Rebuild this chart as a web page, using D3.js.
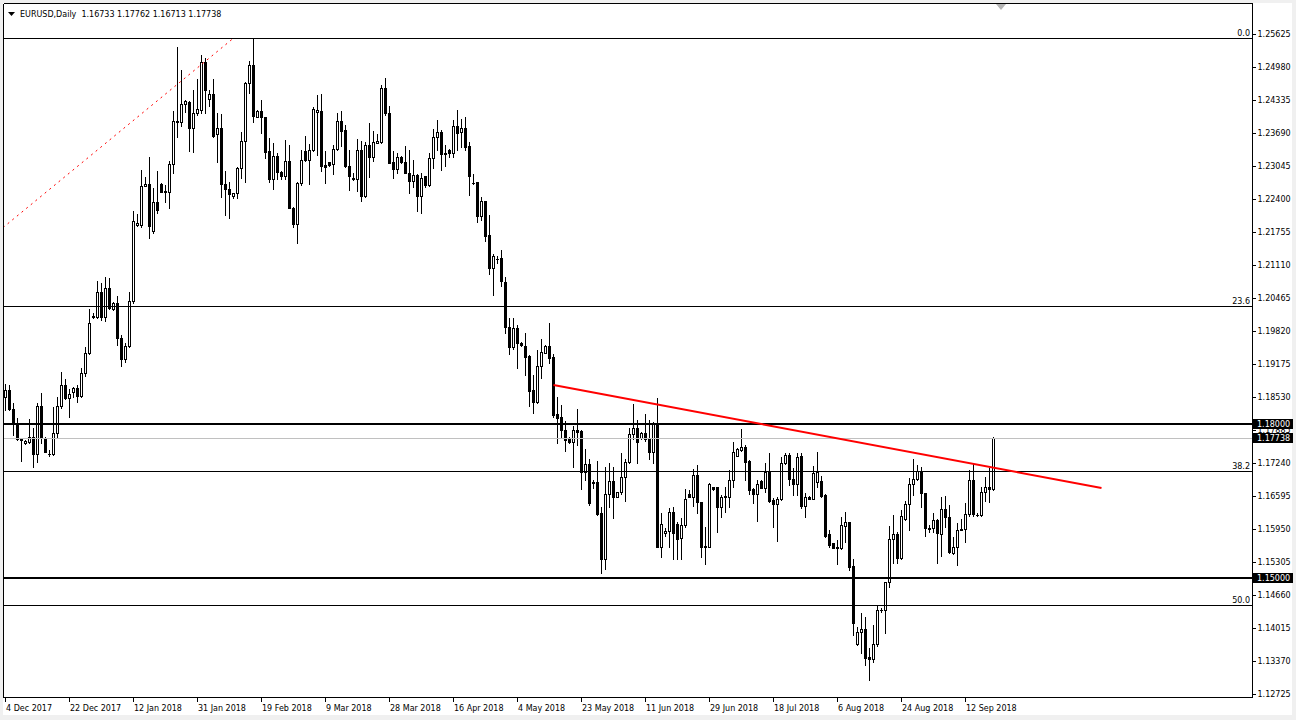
<!DOCTYPE html>
<html><head><meta charset="utf-8">
<script src="https://cdn.jsdelivr.net/npm/d3@7"></script>
<style>
html,body{margin:0;padding:0;background:#f0f0f0;}
svg{display:block;}
</style></head><body>
<svg id="c" width="1296" height="720"></svg>
<script>
// ---- data (EURUSD daily) ----
const symbolTitle = "EURUSD,Daily";
const lastOHLC = ["1.16733", "1.17762", "1.16713", "1.17738"];

const open = [
1.18542,1.18673,1.18295,1.18034,1.17708,1.17630,1.17663,1.17760,1.17415,1.18360,
1.17728,1.17421,1.17415,1.17825,1.18360,1.18764,1.18510,1.18627,1.18705,1.18562,
1.18998,1.19389,1.20093,1.20093,1.20595,1.20093,1.20660,1.20249,1.20367,1.19682,
1.19272,1.19539,1.20419,1.21904,1.21904,1.22660,1.22699,1.21787,1.22341,1.22699,
1.22550,1.22550,1.23084,1.23931,1.23905,1.24257,1.24309,1.23801,1.24081,1.24146,
1.25091,1.24355,1.24452,1.23671,1.23788,1.22693,1.22595,1.22472,1.22517,1.23006,
1.23540,1.24667,1.25026,1.24003,1.24127,1.24003,1.23345,1.22791,1.23247,1.22941,
1.22862,1.23149,1.22237,1.21911,1.22713,1.23345,1.23169,1.23364,1.24114,1.24127,
1.23071,1.23123,1.23084,1.23384,1.23931,1.23755,1.23058,1.22823,1.22791,1.23364,
1.22472,1.23462,1.23234,1.23494,1.23527,1.24570,1.24081,1.23123,1.22993,1.23221,
1.23123,1.22921,1.22765,1.22875,1.22472,1.22856,1.22680,1.23201,1.23625,1.23710,
1.23312,1.23364,1.23299,1.23833,1.23723,1.23788,1.23442,1.22726,1.22732,1.22081,
1.22367,1.21703,1.21064,1.21227,1.21250,1.20790,1.19897,1.19506,1.19878,1.19584,
1.19532,1.19337,1.18672,1.18444,1.19141,1.19402,1.19532,1.19311,1.18203,1.18138,
1.17890,1.17714,1.17649,1.17890,1.17871,1.17076,1.17226,1.16874,1.16867,1.16261,
1.15362,1.16633,1.16900,1.16587,1.16672,1.16978,1.17258,1.17806,1.17923,1.17727,
1.17838,1.17708,1.17467,1.18034,1.15610,1.15871,1.15923,1.16295,1.16047,1.15773,
1.16034,1.16640,1.16588,1.17011,1.16477,1.15610,1.15610,1.16770,1.16770,1.16392,
1.16574,1.16587,1.16913,1.17389,1.17500,1.17552,1.17284,1.16731,1.16633,1.16894,
1.16763,1.17076,1.16522,1.16437,1.16535,1.17239,1.17402,1.16926,1.16828,1.17383,
1.16405,1.16575,1.16549,1.16881,1.16901,1.16620,1.15852,1.15676,1.15610,1.15578,
1.16021,1.16086,1.15232,1.13701,1.13936,1.13994,1.13447,1.13408,1.13701,1.14366,
1.14372,1.14913,1.15760,1.15858,1.15395,1.16145,1.16444,1.16829,1.16927,1.17090,
1.16653,1.15982,1.15969,1.16132,1.15852,1.16347,1.16184,1.15480,1.15597,1.15936,
1.15949,1.16242,1.16914,1.16229,1.16223,1.16673,1.16770,1.16733];

const high = [
1.18783,1.18770,1.18412,1.18132,1.17728,1.17695,1.18099,1.17936,1.18412,1.18607,
1.17760,1.17500,1.18347,1.18542,1.19031,1.18881,1.18686,1.18738,1.18770,1.19096,
1.19520,1.20249,1.20171,1.20803,1.20758,1.20875,1.20868,1.20399,1.20510,1.19748,
1.19585,1.20595,1.22172,1.22113,1.22973,1.22843,1.23234,1.22615,1.22960,1.22712,
1.22680,1.23149,1.24127,1.25384,1.24928,1.24342,1.24322,1.24537,1.24746,1.25221,
1.25156,1.24537,1.24746,1.24081,1.24068,1.22954,1.22745,1.22530,1.23038,1.23723,
1.24700,1.25104,1.25547,1.24146,1.24342,1.24016,1.23605,1.23508,1.23299,1.22954,
1.23560,1.23462,1.22257,1.22745,1.23364,1.23638,1.23475,1.24211,1.24439,1.24452,
1.23345,1.23136,1.23462,1.24081,1.24127,1.23853,1.23364,1.22908,1.23579,1.23540,
1.23527,1.23899,1.23736,1.23670,1.24635,1.24765,1.24224,1.23345,1.23299,1.23247,
1.23442,1.23364,1.23169,1.22895,1.22908,1.22856,1.23312,1.23768,1.23951,1.23755,
1.23462,1.23384,1.23951,1.24146,1.23970,1.24016,1.23527,1.22889,1.22745,1.22452,
1.22367,1.22094,1.21331,1.21292,1.21400,1.20880,1.20073,1.20073,1.19943,1.19617,
1.19780,1.19356,1.18965,1.19454,1.19663,1.19552,1.19975,1.19369,1.18542,1.18379,
1.18066,1.17760,1.17969,1.18301,1.17890,1.17512,1.17323,1.16913,1.17284,1.16379,
1.17174,1.17239,1.17161,1.16685,1.17434,1.17323,1.17923,1.18392,1.18086,1.17858,
1.18197,1.18086,1.18053,1.18509,1.16261,1.15969,1.16373,1.16392,1.16099,1.16164,
1.16738,1.16718,1.17129,1.17206,1.16490,1.15988,1.16861,1.16783,1.16783,1.16620,
1.16783,1.17109,1.17662,1.17532,1.17910,1.17597,1.17304,1.16750,1.16913,1.16913,
1.17252,1.17434,1.16555,1.16587,1.17369,1.17434,1.17434,1.17141,1.17434,1.17435,
1.16653,1.16601,1.17187,1.17468,1.16992,1.16640,1.15936,1.15689,1.15741,1.16184,
1.16295,1.16099,1.15363,1.14047,1.14320,1.14242,1.13623,1.14079,1.14470,1.14405,
1.14926,1.16014,1.16229,1.15904,1.16327,1.16510,1.16946,1.17318,1.17207,1.17174,
1.16666,1.16034,1.16275,1.16145,1.16588,1.16601,1.16425,1.15806,1.16079,1.16145,
1.16470,1.17109,1.17220,1.16262,1.16783,1.16979,1.17142,1.17762];

const low = [
1.18282,1.18282,1.17793,1.17695,1.17291,1.17617,1.17630,1.17161,1.17272,1.17630,
1.17467,1.17382,1.17402,1.17747,1.18314,1.18490,1.18151,1.18542,1.18445,1.18542,
1.18953,1.19370,1.20073,1.20073,1.20041,1.20021,1.20249,1.20236,1.19552,1.19142,
1.19213,1.19520,1.20380,1.21878,1.21865,1.22660,1.21637,1.21748,1.22126,1.22536,
1.22341,1.22224,1.22921,1.23625,1.23840,1.24114,1.23351,1.23332,1.24048,1.24081,
1.24081,1.24231,1.23625,1.23136,1.22452,1.22094,1.22042,1.22419,1.22419,1.22823,
1.22745,1.24472,1.23918,1.24003,1.23690,1.23201,1.22745,1.22595,1.22791,1.22791,
1.22791,1.22224,1.21866,1.21540,1.22680,1.23149,1.22693,1.23351,1.23267,1.22960,
1.22726,1.23058,1.22895,1.23364,1.23442,1.23038,1.22582,1.22778,1.22569,1.22374,
1.22452,1.22843,1.23156,1.23494,1.23508,1.24048,1.23104,1.22823,1.22908,1.23104,
1.22908,1.22530,1.22647,1.22172,1.22139,1.22647,1.22660,1.23006,1.23364,1.22973,
1.23051,1.23234,1.23234,1.23364,1.23429,1.23364,1.22485,1.22700,1.21963,1.21996,
1.21592,1.20940,1.20530,1.21162,1.20700,1.19793,1.19376,1.19467,1.19096,1.19539,
1.18965,1.18366,1.18216,1.18425,1.18900,1.19389,1.19207,1.18151,1.17630,1.17760,
1.17486,1.17630,1.17161,1.17597,1.16737,1.16913,1.16424,1.16750,1.16229,1.15088,
1.15167,1.16392,1.16164,1.16574,1.16639,1.16509,1.17239,1.17708,1.17252,1.17708,
1.17682,1.17317,1.17239,1.15597,1.15414,1.15819,1.15610,1.15363,1.15363,1.15363,
1.16001,1.16575,1.16400,1.16275,1.15401,1.15271,1.15597,1.16718,1.15903,1.16196,
1.16294,1.16392,1.16783,1.17382,1.17487,1.16913,1.16639,1.16457,1.16118,1.16750,
1.16685,1.16490,1.15988,1.15727,1.16522,1.17226,1.16815,1.16620,1.16620,1.16360,
1.16197,1.16536,1.16536,1.16783,1.16575,1.15793,1.15610,1.15578,1.15272,1.15558,
1.15708,1.15154,1.13884,1.13688,1.13525,1.13297,1.13004,1.13362,1.13669,1.14340,
1.13929,1.14828,1.15285,1.15285,1.15363,1.16132,1.15936,1.16620,1.16914,1.16392,
1.15819,1.15904,1.15904,1.15285,1.15428,1.16001,1.15493,1.15467,1.15252,1.15936,
1.15708,1.16210,1.16210,1.16210,1.16210,1.16510,1.16490,1.16713];

const close = [
1.18673,1.18295,1.18021,1.17708,1.17689,1.17676,1.17760,1.17415,1.18360,1.17728,
1.17467,1.17430,1.17825,1.18360,1.18764,1.18510,1.18588,1.18705,1.18562,1.18998,
1.19389,1.19976,1.20113,1.20595,1.20093,1.20660,1.20269,1.20367,1.19682,1.19272,
1.19539,1.20419,1.21983,1.21937,1.22660,1.22699,1.21878,1.22341,1.22191,1.22550,
1.22569,1.23084,1.23931,1.23905,1.24263,1.24322,1.23801,1.24081,1.24166,1.25091,
1.24537,1.24452,1.23644,1.23788,1.22693,1.22595,1.22498,1.22517,1.23006,1.23540,
1.24680,1.25026,1.24029,1.24127,1.24003,1.23332,1.22791,1.23247,1.22941,1.22862,
1.23149,1.22237,1.21911,1.22713,1.23169,1.23169,1.23364,1.24166,1.24146,1.23058,
1.23038,1.23071,1.23384,1.23931,1.23742,1.23058,1.22862,1.22791,1.23364,1.22472,
1.23462,1.23234,1.23527,1.23540,1.24583,1.24081,1.23117,1.22993,1.23221,1.23123,
1.22921,1.22765,1.22875,1.22472,1.22810,1.22680,1.23201,1.23612,1.23710,1.23280,
1.23280,1.23299,1.23833,1.23703,1.23788,1.23429,1.22856,1.22726,1.22081,1.22367,
1.21690,1.21064,1.21292,1.21235,1.20800,1.19897,1.19506,1.19878,1.19584,1.19552,
1.19324,1.18659,1.18444,1.19141,1.19415,1.19532,1.19291,1.18184,1.18131,1.17890,
1.17695,1.17649,1.17890,1.17858,1.17076,1.17219,1.16457,1.16848,1.16242,1.15362,
1.16633,1.16900,1.16574,1.16672,1.16978,1.17258,1.17806,1.17923,1.17662,1.17838,
1.17708,1.17467,1.18034,1.15610,1.16053,1.15923,1.16295,1.15871,1.15754,1.16034,
1.16536,1.16588,1.17011,1.16477,1.15610,1.15630,1.16835,1.16744,1.16392,1.16574,
1.16600,1.16913,1.17454,1.17513,1.17552,1.17271,1.16718,1.16633,1.16835,1.16763,
1.17076,1.16509,1.16437,1.16535,1.17239,1.17402,1.16926,1.16828,1.17369,1.16405,
1.16575,1.16549,1.17057,1.17077,1.16601,1.15819,1.15643,1.15591,1.15578,1.16034,
1.16086,1.15219,1.14112,1.13936,1.13994,1.13441,1.13408,1.13701,1.14372,1.14372,
1.14913,1.15760,1.15858,1.15395,1.16210,1.16444,1.16829,1.16927,1.17090,1.16653,
1.15982,1.15949,1.16132,1.15871,1.16347,1.16184,1.15513,1.15597,1.15936,1.15956,
1.16242,1.16914,1.16242,1.16223,1.16673,1.16770,1.16731,1.17738];

const dateLabels = ["4 Dec 2017","22 Dec 2017","12 Jan 2018","31 Jan 2018","19 Feb 2018","9 Mar 2018",
  "28 Mar 2018","16 Apr 2018","4 May 2018","23 May 2018","11 Jun 2018","29 Jun 2018",
  "18 Jul 2018","6 Aug 2018","24 Aug 2018","12 Sep 2018"];
const dateLabelBar = [0,16,32,48,64,80,96,112,128,144,160,176,192,208,224,240];

const priceTicks = [1.25625,1.24980,1.24335,1.23690,1.23045,1.22400,1.21755,1.21110,1.20465,
  1.19820,1.19175,1.18530,1.17885,1.17240,1.16595,1.15950,1.15305,1.14660,1.14015,1.13370,1.12725];

const fibHigh = 1.2555, fibLow = 1.0338;
const fibLevels = [0.0, 23.6, 38.2, 50.0];
const fibAnchors = [{bar:-288, price:1.0338}, {bar:57, price:1.2555}];
const levelLines = [1.18000, 1.15000];
const bidPrice = 1.17738;
const trendLine = [{bar:137, price:1.18770}, {bar:274, price:1.16757}];

// ---- layout ----
const W = 1296, H = 720;
const PL = 4, PT = 4, PR = 1252, PB = 697;
const FONT = "'DejaVu Sans', Tahoma, sans-serif";

const svg = d3.select('#c');
svg.append('rect').attr('width', W).attr('height', H).attr('fill', '#f0f0f0');
svg.append('rect').attr('x', 3).attr('y', 3).attr('width', 1289).attr('height', 712).attr('fill', '#ffffff');

const n = open.length;
const x = d3.scaleLinear().domain([0, n - 1]).range([5.5, 5.5 + 4 * (n - 1)]);
const y = d3.scaleLinear().domain([1.12725, 1.25625]).range([694.3, 34.3]);
const ry = p => Math.round(y(p));

svg.append('defs').append('clipPath').attr('id', 'plot')
  .append('rect').attr('x', PL).attr('y', PT).attr('width', PR - PL).attr('height', PB - PT);

const plot = svg.append('g').attr('clip-path', 'url(#plot)');

// candles
const idx = d3.range(n);
const cg = plot.append('g').attr('shape-rendering', 'crispEdges');
cg.selectAll('line.wick').data(idx).join('line').attr('class', 'wick')
  .attr('x1', i => x(i)).attr('x2', i => x(i))
  .attr('y1', i => ry(high[i])).attr('y2', i => ry(low[i]) + 1)
  .attr('stroke', '#000').attr('stroke-width', 1);
cg.selectAll('path.body').data(idx).join('path').attr('class', 'body')
  .attr('d', i => {
    const t = Math.min(ry(open[i]), ry(close[i]));
    const b = Math.max(ry(open[i]), ry(close[i]));
    if (b === t) return `M${x(i) - 1.5},${t + 0.5}h3`;
    return `M${x(i) - 1},${t + 0.5}h2v${b - t}h-2Z`;
  })
  .attr('fill', i => close[i] >= open[i] ? '#ffffff' : '#000000')
  .attr('stroke', '#000').attr('stroke-width', 1);

// fib dashed trend
plot.append('line')
  .attr('x1', x(fibAnchors[0].bar)).attr('y1', y(fibAnchors[0].price))
  .attr('x2', x(fibAnchors[1].bar)).attr('y2', y(fibAnchors[1].price))
  .attr('stroke', '#ff0000').attr('stroke-width', 1).attr('stroke-dasharray', '2,4');

// fib levels
const lg = plot.append('g').attr('shape-rendering', 'crispEdges');
fibLevels.forEach(l => {
  const p = fibHigh - (fibHigh - fibLow) * l / 100;
  const yy = ry(p) + 0.5;
  lg.append('line').attr('x1', PL).attr('x2', PR).attr('y1', yy).attr('y2', yy)
    .attr('stroke', '#000').attr('stroke-width', 1);
  svg.append('text').attr('x', 1250).attr('y', yy - 2.5).attr('text-anchor', 'end')
    .attr('font-family', FONT).attr('font-size', 8).attr('fill', '#000')
    .text(l.toFixed(1));
});
// horizontal level lines
levelLines.forEach(p => {
  const yy = ry(p);
  lg.append('line').attr('x1', PL).attr('x2', PR).attr('y1', yy).attr('y2', yy)
    .attr('stroke', '#000').attr('stroke-width', 2);
});
// bid line
lg.append('line').attr('x1', PL).attr('x2', PR).attr('y1', ry(bidPrice) + 0.5).attr('y2', ry(bidPrice) + 0.5)
  .attr('stroke', '#c0c0c0').attr('stroke-width', 1);

// red trend line
plot.append('line')
  .attr('x1', x(trendLine[0].bar)).attr('y1', y(trendLine[0].price))
  .attr('x2', x(trendLine[1].bar)).attr('y2', y(trendLine[1].price))
  .attr('stroke', '#ff0000').attr('stroke-width', 2);

// frame
const fr = svg.append('g').attr('shape-rendering', 'crispEdges').attr('stroke', '#000').attr('stroke-width', 1);
fr.append('line').attr('x1', 3.5).attr('x2', 3.5).attr('y1', 3.5).attr('y2', PB + 0.5);
fr.append('line').attr('x1', 3.5).attr('x2', PR + 0.5).attr('y1', 3.5).attr('y2', 3.5);
fr.append('line').attr('x1', PR + 0.5).attr('x2', PR + 0.5).attr('y1', 3.5).attr('y2', PB + 0.5);
fr.append('line').attr('x1', 3.5).attr('x2', PR + 0.5).attr('y1', PB + 0.5).attr('y2', PB + 0.5);

// price axis
const ya = svg.append('g').attr('transform', `translate(${PR + 0.5},0)`)
  .call(d3.axisRight(y).tickValues(priceTicks).tickSize(3).tickPadding(2).tickFormat(d3.format('.5f')));
ya.select('.domain').remove();
ya.attr('font-family', FONT).attr('font-size', 8);
ya.selectAll('line').attr('stroke', '#000').attr('shape-rendering', 'crispEdges');
ya.selectAll('text').attr('fill', '#000');

// date axis
const xa = svg.append('g').attr('transform', `translate(0,${PB + 0.5})`)
  .call(d3.axisBottom(x).tickValues(dateLabelBar).tickSize(4).tickPadding(4)
    .tickFormat((d, i) => dateLabels[i]));
xa.select('.domain').remove();
xa.attr('font-family', FONT).attr('font-size', 8);
xa.selectAll('.tick line').attr('transform', 'translate(-1,0)').attr('stroke', '#000').attr('shape-rendering', 'crispEdges');
xa.selectAll('text').attr('text-anchor', 'start').attr('dx', 0).attr('fill', '#000');

// price boxes
[levelLines[0], bidPrice, levelLines[1]].forEach(p => {
  const yy = ry(p);
  svg.append('rect').attr('x', PR + 1).attr('y', yy - 5).attr('width', 40).attr('height', 10).attr('fill', '#000');
  svg.append('text').attr('x', PR + 5).attr('y', yy).attr('dy', '0.32em')
    .attr('font-family', FONT).attr('font-size', 8).attr('fill', '#fff')
    .text(d3.format('.5f')(p));
});

// header
svg.append('path').attr('d', 'M8,12L15,12L11.5,16Z').attr('fill', '#000');
svg.append('text').attr('x', 20).attr('y', 16.5).attr('font-family', FONT).attr('font-size', 8).attr('fill', '#000')
  .attr('xml:space', 'preserve')
  .text(symbolTitle + '  ' + lastOHLC.join(' '));

// chart shift marker
svg.append('path').attr('d', 'M996,4L1006,4L1001,10Z').attr('fill', '#b4b4b4');
</script>
</body></html>
